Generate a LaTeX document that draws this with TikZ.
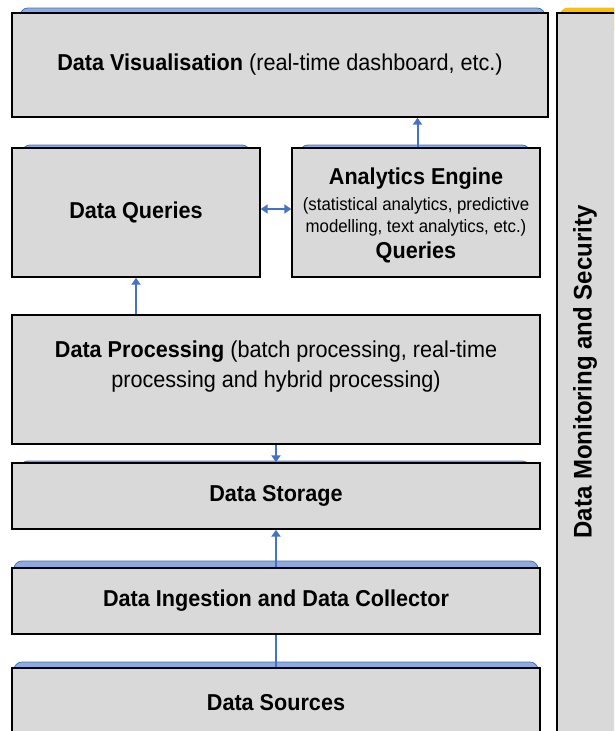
\documentclass[tikz,border=0pt]{standalone}
\usepackage{fontspec}
\setmainfont{Liberation Sans}
\usetikzlibrary{arrows.meta}
\definecolor{boxgray}{HTML}{D9D9D9}
\definecolor{tabblue}{HTML}{8FAADC}
\definecolor{tabedge}{HTML}{4472C4}
\definecolor{arrowblue}{HTML}{4472C4}
\definecolor{tabyellow}{HTML}{FFC000}
\newcommand{\sq}[1]{\scalebox{0.94}[1]{#1}}
\tikzset{
  box/.style={draw=black, line width=1.4pt, fill=boxgray, inner sep=0pt, align=center,
    font=\fontsize{23}{28}\selectfont},
  bigtxt/.style={font=\fontsize{23}{30}\selectfont, align=center, inner sep=0pt},
  smalltxt/.style={font=\fontsize{17.9}{22}\selectfont, align=center, inner sep=0pt},
  tab/.style={fill=tabblue, draw=tabedge, line width=0.8pt, rounded corners=8pt},
  ytab/.style={fill=tabyellow, draw=tabyellow, line width=0.8pt, rounded corners=8pt},
  conn/.style={draw=arrowblue, line width=2pt},
  tip/.style={-{Triangle[width=9pt,length=7pt]}},
  tips/.style={{Triangle[width=9pt,length=7pt]}-{Triangle[width=9pt,length=7pt]}},
}
\begin{document}
\begin{tikzpicture}[x=1pt,y=-1pt]
\useasboundingbox (0,0) rectangle (614,731);
\clip (0,0) rectangle (614,731);
% tabs
\draw[tab] (20,30) rectangle (545,8);
\draw[tab] (22,160) rectangle (250,145);
\draw[tab] (300,160) rectangle (530,145);
\draw[tab] (20,475) rectangle (530,461);
\draw[tab] (14,580) rectangle (538,561);
\draw[tab] (14,680) rectangle (538,662);
\draw[ytab] (560,30) rectangle (625,8);
% boxes
\node[box, minimum width=536pt, minimum height=104pt] (vis) at (280,65)
  {\sq{\textbf{Data Visualisation} (real-time dashboard, etc.)}};
\node[box, minimum width=248pt, minimum height=129pt] (dq) at (136,212.5)
  {\sq{\textbf{Data Queries}}};
\node[box, minimum width=248pt, minimum height=129pt] (ae) at (416,212.5) {};
\node[bigtxt] (aet) at (416,179) {\sq{\textbf{Analytics Engine}}};
\node[smalltxt] (aep) at (416,217)
  {\sq{(statistical analytics, predictive}\\\sq{modelling, text analytics, etc.)}};
\node[bigtxt] (aeq) at (416,252) {\sq{\textbf{Queries}}};
\node[box, minimum width=528pt, minimum height=129pt] (dp) at (276,379.5) {};
\node[bigtxt] (dpt) at (276,367)
  {\sq{\textbf{Data Processing} (batch processing, real-time}\\\sq{processing and hybrid processing)}};
\node[box, minimum width=528pt, minimum height=66pt] (st) at (276,496) {\sq{\textbf{Data Storage}}};
\node[box, minimum width=528pt, minimum height=66pt] (di) at (276,601)
  {\sq{\textbf{Data Ingestion and Data Collector}}};
\node[box, minimum width=528pt, minimum height=70pt] (ds) at (276,703) {\sq{\textbf{Data Sources}}};
\node[box, minimum width=60pt, minimum height=730pt] (mon) at (587,378) {};
\node[rotate=90, font=\fontsize{25.5}{30}\selectfont\bfseries, inner sep=0pt] (mont) at (585,372)
  {\sq{Data Monitoring and Security}};
% connectors
\draw[conn, tip] ([xshift=1.5pt]ae.north) -- ([xshift=1.5pt]ae.north |- vis.south);
\draw[conn, tips] ([yshift=3.5pt]dq.east) -- ([yshift=3.5pt]ae.west);
\draw[conn, tip] (dp.north -| dq.south) -- (dq.south);
\draw[conn, tip] (dp.south) -- (st.north);
\draw[conn, tip] (di.north) -- (st.south);
\draw[conn] (ds.north) -- (di.south);
\end{tikzpicture}
\end{document}
